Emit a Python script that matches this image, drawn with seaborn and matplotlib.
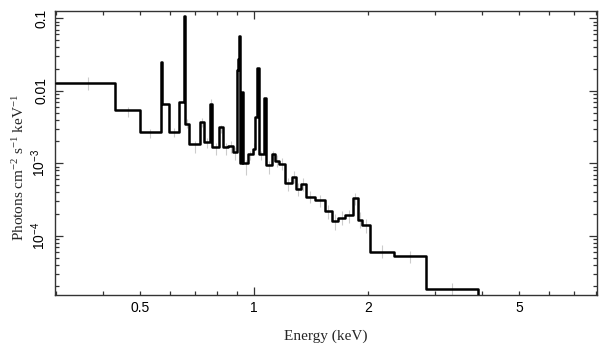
import matplotlib
matplotlib.use("Agg")
import matplotlib.pyplot as plt
from matplotlib.ticker import FixedLocator, FixedFormatter, NullFormatter
import seaborn as sns
import pandas as pd

# ---- model spectrum: bin edges (keV) and flux per bin (photons cm^-2 s^-1 keV^-1)
bin_edges = [0.300, 0.430, 0.500, 0.567, 0.571, 0.596, 0.635, 0.652, 0.656, 0.675,
             0.720, 0.738, 0.766, 0.774, 0.810, 0.827, 0.855, 0.881, 0.900, 0.909,
             0.914, 0.920, 0.927, 0.935, 0.965, 0.992, 1.006, 1.016, 1.029, 1.064,
             1.074, 1.113, 1.136, 1.166, 1.206, 1.256, 1.288, 1.330, 1.371, 1.448,
             1.539, 1.602, 1.668, 1.738, 1.827, 1.875, 1.930, 2.022, 2.344, 2.837,
             3.905]
model_flux = [0.0127, 0.00543, 0.00268, 0.0252, 0.00657, 0.00268, 0.00707, 0.108, 0.00348,
              0.00183, 0.00371, 0.00199, 0.00651, 0.00168, 0.00314, 0.00168, 0.00173,
              0.00145, 0.0194, 0.0275, 0.0570, 0.00100, 0.00972, 0.00100, 0.00134,
              0.00156, 0.00439, 0.0208, 0.00133, 0.00803, 0.00095, 0.00134, 0.00107,
              0.00098, 0.00053, 0.00064, 0.00044, 0.00051, 0.000346, 0.000312,
              0.000222, 0.000160, 0.000176, 0.000194, 0.000329, 0.000165, 0.000141,
              6.04e-5, 5.26e-5, 1.85e-5]

# ---- observed data points (faint grey crosses)
data_energy = [0.365, 0.465, 0.533, 0.615, 0.666, 0.697, 0.729, 0.751, 0.771, 0.794,
               0.818, 0.841, 0.868, 0.890, 0.950, 0.978, 0.999, 1.045, 1.096, 1.124,
               1.151, 1.186, 1.231, 1.272, 1.309, 1.350, 1.409, 1.493, 1.570, 1.635,
               1.703, 1.782, 1.851, 1.902, 1.976, 2.177, 2.579, 3.330]
data_flux = [0.0128, 0.0052, 0.0026, 0.0027, 0.0036, 0.0017, 0.0037, 0.0019, 0.0068, 0.0016,
             0.0030, 0.0016, 0.0017, 0.0014, 0.0009, 0.0013, 0.0016, 0.0013, 0.00090, 0.0013,
             0.0011, 0.0010, 0.00052, 0.00066, 0.00044, 0.00052, 0.00035, 0.00031, 0.00022,
             0.00016, 0.00018, 0.00019, 0.00033, 0.00017, 0.00014, 6.2e-5, 5.2e-5, 1.85e-5]
data_err = [0.0025, 0.0008, 0.0004, 0.0004, 0.0005, 0.0003, 0.0005, 0.0003, 0.0009, 0.0003,
            0.0004, 0.0003, 0.0003, 0.0003, 0.0002, 0.0002, 0.0003, 0.0002, 0.00018, 0.0002,
            0.0002, 0.0002, 0.0001, 0.00012, 0.00009, 0.0001, 0.00007, 0.00006, 0.00005,
            0.00004, 0.00004, 0.00004, 0.00006, 0.00004, 0.00003, 1.2e-5, 1.0e-5, 4e-6]

x_tick_vals = [0.5, 1, 2, 5]
x_tick_labels = ["0.5", "1", "2", "5"]
x_minor_vals = [0.3, 0.4, 0.6, 0.7, 0.8, 0.9, 3, 4, 6, 7, 8]
y_tick_vals = [1e-4, 1e-3, 0.01, 0.1]
y_tick_labels = [r"$\mathsf{10^{-4}}$", r"$\mathsf{10^{-3}}$", "0.01", "0.1"]

sns.set_theme(style="ticks")
plt.rcParams["font.family"] = ["Liberation Sans", "DejaVu Sans"]
plt.rcParams["mathtext.fontset"] = "custom"
plt.rcParams["mathtext.rm"] = "Liberation Serif"
plt.rcParams["mathtext.sf"] = "Liberation Sans"
plt.rcParams["mathtext.it"] = "Liberation Serif:italic"

fig = plt.figure(figsize=(6.08, 3.57), dpi=100)
ax = fig.add_axes([55 / 608, 1 - 295 / 357, 542 / 608, 284 / 357])
ax.set_xscale("log")
ax.set_yscale("log")

# step line built from edges/values, closing with a drop at the last edge
step_x = bin_edges + [bin_edges[-1]]
step_y = model_flux + [model_flux[-1], 1e-6]
df = pd.DataFrame({"E": step_x, "F": step_y})

ax.errorbar(data_energy, data_flux, yerr=data_err, fmt="none",
            ecolor="#cccccc", elinewidth=0.8, capsize=0, zorder=1)
sns.lineplot(data=df, x="E", y="F", ax=ax, sort=False, estimator=None,
             drawstyle="steps-post", color="black", linewidth=1.8, zorder=3)

ax.set_xlim(0.2985, 8.03)
ax.set_ylim(1.526e-5, 0.126)

ax.xaxis.set_major_locator(FixedLocator(x_tick_vals))
ax.xaxis.set_major_formatter(FixedFormatter(x_tick_labels))
ax.xaxis.set_minor_locator(FixedLocator(x_minor_vals))
ax.xaxis.set_minor_formatter(NullFormatter())

ax.yaxis.set_major_locator(FixedLocator(y_tick_vals))
ax.yaxis.set_major_formatter(FixedFormatter(y_tick_labels))
ax.yaxis.set_minor_locator(FixedLocator([m * d for d in [1e-5, 1e-4, 1e-3, 1e-2, 1e-1]
                                         for m in range(2, 10)]))
ax.yaxis.set_minor_formatter(NullFormatter())

spine_col = "#333333"
for s in ax.spines.values():
    s.set_color(spine_col)
    s.set_linewidth(1.0)
    s.set_visible(True)

ax.tick_params(which="both", direction="in", top=True, right=True,
               color=spine_col, width=0.9, labelsize=10, labelcolor="black")
ax.tick_params(axis="x", which="major", length=3.2, pad=4.5)
ax.tick_params(axis="x", which="minor", length=3.2)
ax.tick_params(axis="y", which="major", length=5.8, pad=5)
ax.tick_params(axis="y", which="minor", length=3.2)
for lab in ax.get_yticklabels():
    lab.set_rotation(90)
    lab.set_va("center")

# only the decade tick (1 keV) is long on the x axis
t1 = ax.xaxis.get_major_ticks()[1]
t1.tick1line.set_markersize(5.8)
t1.tick2line.set_markersize(5.8)

ax.set_xlabel("Energy (keV)", family=["Liberation Serif", "DejaVu Serif"],
              fontsize=11, labelpad=10)
ax.set_ylabel(r"Photons cm$^{-2}$ s$^{-1}$ keV$^{-1}$",
              family=["Liberation Serif", "DejaVu Serif"], fontsize=11)
ax.yaxis.set_label_coords(-0.052, 0.45)

fig.savefig("out.png", dpi=100)
